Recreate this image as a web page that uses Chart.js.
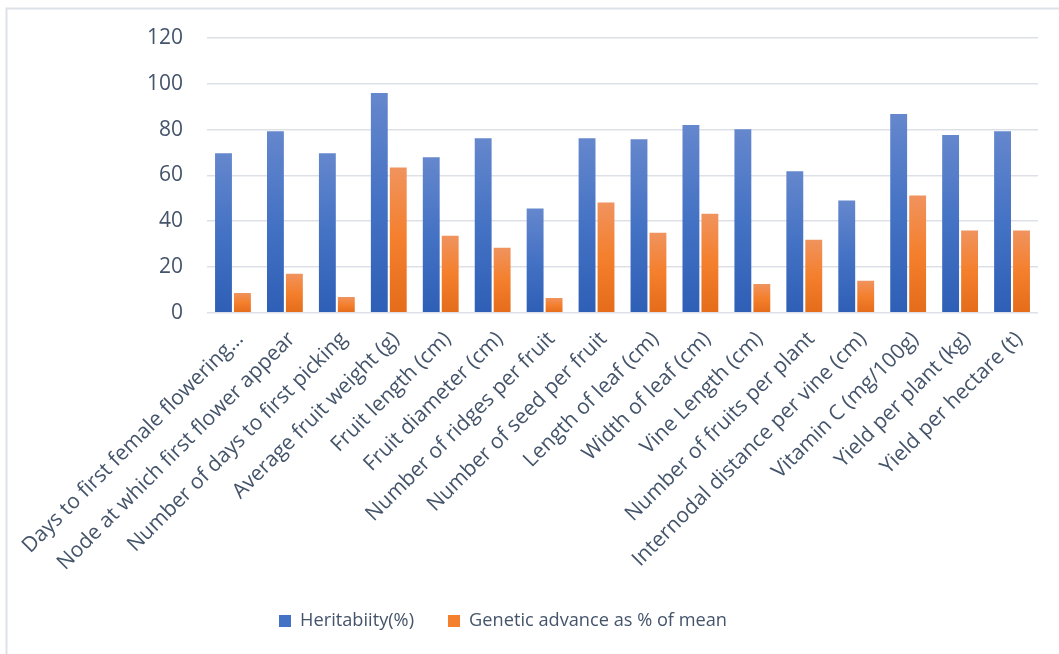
<!DOCTYPE html>
<html>
<head>
<meta charset="utf-8">
<script src="https://cdn.jsdelivr.net/npm/chart.js@4.4.1/dist/chart.umd.min.js"></script>
<style>
  html, body { margin: 0; padding: 0; background: #ffffff; }
  #wrap { position: relative; width: 1059px; height: 654px; }
</style>
</head>
<body>
<div id="wrap"><canvas id="chart" width="1059" height="654"></canvas></div>
<script>
// Traits measured
const traits = [
  "Days to first female flowering…",
  "Node at which first flower appear",
  "Number of days to first picking",
  "Average fruit weight (g)",
  "Fruit length (cm)",
  "Fruit diameter (cm)",
  "Number of ridges per fruit",
  "Number of seed per fruit",
  "Length of leaf (cm)",
  "Width of leaf (cm)",
  "Vine Length (cm)",
  "Number of fruits per plant",
  "Internodal distance per vine (cm)",
  "Vitamin C (mg/100g)",
  "Yield per plant (kg)",
  "Yield per hectare (t)"
];

// Broad-sense heritability (%)
const heritability = [69.7, 79.3, 69.7, 96.0, 67.9, 76.2, 45.5, 76.2, 75.8, 82.0, 80.2, 61.8, 49.0, 86.8, 77.6, 79.3];

// Genetic advance as % of mean
const geneticAdvance = [8.7, 17.0, 6.9, 63.5, 33.7, 28.4, 6.5, 48.2, 35.0, 43.3, 12.6, 31.9, 14.0, 51.2, 35.9, 35.9];

const seriesNames = ["Heritabiity(%)", "Genetic advance as % of mean"];
const yTicks = [0, 20, 40, 60, 80, 100, 120];

const textColor = "#44546a";
const fontFamily = "'Open Sans', 'Noto Sans', sans-serif";

// Vertical gradient per bar: light tint at the top, deeper shade at the base
function barGradient(stops) {
  return function (ctx) {
    const chart = ctx.chart;
    const y = chart.scales && chart.scales.y;
    if (!y || ctx.type !== "data" || !chart.chartArea) return stops[1];
    const top = y.getPixelForValue(ctx.parsed ? ctx.parsed.y : ctx.raw);
    const base = y.getPixelForValue(0);
    if (!isFinite(top) || !isFinite(base) || top === base) return stops[1];
    const g = chart.ctx.createLinearGradient(0, top, 0, base);
    g.addColorStop(0, stops[0]);
    g.addColorStop(0.5, stops[1]);
    g.addColorStop(1, stops[2]);
    return g;
  };
}
const blueStops = ["#6587cd", "#4472c4", "#2e5fb6"];
const orangeStops = ["#f0935e", "#f47f2c", "#e46c1a"];

// Thin frame along the top and left edges of the canvas
const framePlugin = {
  id: "frame",
  beforeDraw(chart) {
    const c = chart.ctx;
    c.save();
    c.strokeStyle = "#dde2e9";
    c.lineWidth = 2;
    c.beginPath();
    c.moveTo(6.5, 654);
    c.lineTo(6.5, 8.5);
    c.lineTo(1059, 8.5);
    c.stroke();
    c.restore();
  }
};

// Nudge the legend row a little left of the canvas centre
const legendShift = {
  id: "legendShift",
  afterLayout(chart) {
    const lg = chart.legend;
    if (lg) { lg.left -= 16; lg.right -= 16; }
  }
};

new Chart(document.getElementById("chart"), {
  type: "bar",
  data: {
    labels: traits,
    datasets: [
      {
        label: seriesNames[0],
        data: heritability,
        backgroundColor: barGradient(blueStops),
        categoryPercentage: 0.73,
        barPercentage: 0.89
      },
      {
        label: seriesNames[1],
        data: geneticAdvance,
        backgroundColor: barGradient(orangeStops),
        categoryPercentage: 0.73,
        barPercentage: 0.89
      }
    ]
  },
  plugins: [framePlugin, legendShift],
  options: {
    responsive: false,
    animation: false,
    layout: { padding: { top: 38, right: 21, bottom: 14, left: 0 } },
    plugins: {
      legend: {
        position: "bottom",
        labels: {
          color: textColor,
          font: { family: fontFamily, size: 18.2 },
          boxWidth: 12,
          boxHeight: 12,
          padding: 34,
          generateLabels(chart) {
            return chart.data.datasets.map((ds, i) => ({
              text: ds.label,
              fillStyle: i === 0 ? blueStops[1] : orangeStops[1],
              strokeStyle: "rgba(0,0,0,0)",
              lineWidth: 0,
              fontColor: textColor,
              datasetIndex: i,
              hidden: false
            }));
          }
        }
      },
      tooltip: { enabled: false }
    },
    scales: {
      x: {
        afterFit(scale) {
          scale.height = 265;
          // rotated labels may overhang to the left; keep the plot edge fixed
          scale.paddingLeft = 0;
          scale.paddingRight = 0;
        },
        grid: { display: false, drawTicks: false },
        border: { display: false },
        ticks: {
          color: textColor,
          font: { family: fontFamily, size: 21 },
          minRotation: 45,
          maxRotation: 45,
          autoSkip: false,
          padding: 14,
          labelOffset: 7
        }
      },
      y: {
        min: 0,
        max: 120,
        afterBuildTicks(scale) {
          scale.ticks = yTicks.map(v => ({ value: v }));
        },
        afterFit(scale) { scale.width = 207; },
        grid: { color: "#dde1e7", lineWidth: 1.5, drawTicks: false },
        border: { display: false },
        ticks: {
          color: textColor,
          font: { family: fontFamily, size: 21 },
          padding: 24
        }
      }
    }
  }
});
</script>
</body>
</html>
